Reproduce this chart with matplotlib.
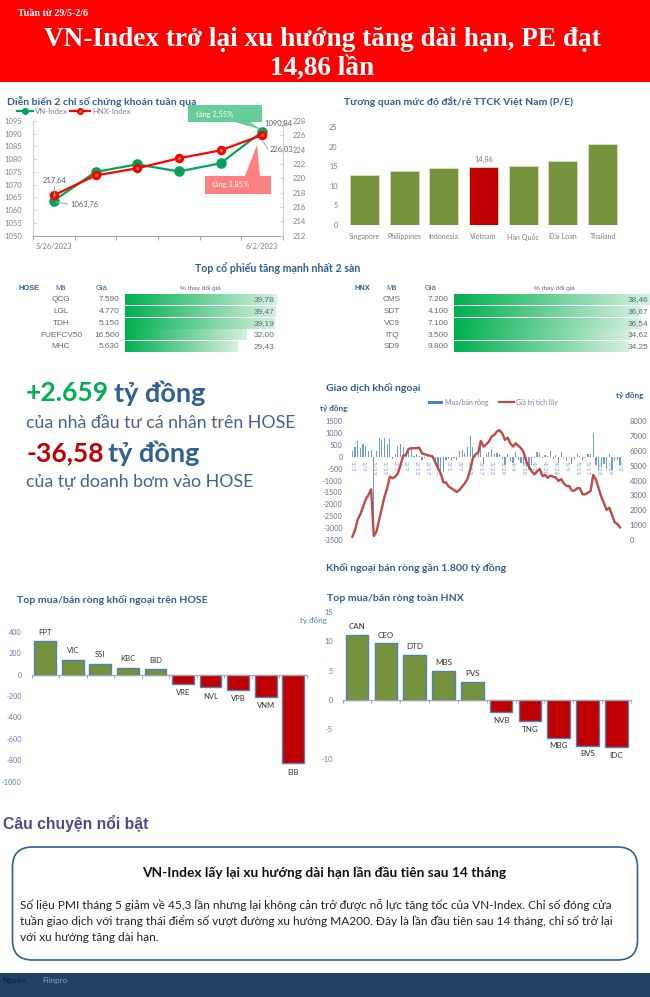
import numpy as np
import matplotlib
matplotlib.use('Agg')
import matplotlib.pyplot as plt
from matplotlib.patches import Rectangle, FancyBboxPatch, Polygon
from matplotlib.colors import LinearSegmentedColormap

W, H = 650, 997
SANS = 'Lato'
plt.rcParams['font.family'] = [SANS, 'Noto Sans', 'DejaVu Sans']
plt.rcParams['axes.unicode_minus'] = False

# ---- data ----
idx_dates = ['5/26/2023', '', '', '', '', '6/2/2023']
vn_index = [1063.76, 1075.0, 1078.0, 1075.2, 1078.4, 1090.84]
hnx_index = [217.64, 220.4, 221.4, 222.8, 223.9, 226.03]

pe_names = ['Singapore', 'Philippines', 'Indonesia', 'Vietnam', 'Hàn Quốc', 'Đài Loan', 'Thailand']
pe_values = [12.8, 13.9, 14.5, 14.86, 15.1, 16.3, 20.8]

hose_codes = ['QCG', 'LGL', 'TDH', 'FUEFCV50', 'MHC']
hose_prices = ['7.590', '4.770', '5.150', '16.500', '5.630']
hose_changes = [39.78, 39.47, 39.19, 32.00, 29.43]
hnx_codes = ['CMS', 'SDT', 'VC9', 'ITQ', 'SD9']
hnx_prices = ['7.200', '4.100', '7.100', '3.500', '9.800']
hnx_changes = [38.46, 36.67, 36.54, 34.62, 34.25]

foreign_ticks = ['1/3', '1/9', '1/13', '1/19', '2/1', '2/7', '2/13', '2/17', '2/23', '3/1', '3/7', '3/13', '3/17',
                 '3/23', '3/29', '4/4', '4/10', '4/14', '4/20', '4/26', '5/5', '5/11', '5/17', '5/23', '5/29', '6/2']
foreign_net = [250, 400, 680, 350, 530, 450, 250, 300, -3350, 230, 800, 720, 800, 540, 750, -100, 110, 450, 530, 420,
               130, 380, 350, 50, 100, 30, -150, -50, 80, 30, 60, -300, -500, -620, -650, -120, -100, -120, -50, -150,
               230, 270, 160, 420, 870, 400, 150, 250, 700, -300, 120, 180, 320, 130, 170, 110, -100, -350, 130, -200,
               -250, 190, -130, -250, -300, -400, -550, -350, -50, 210, 140, -60, 60, 50, 240, -80, 90, -250, 190, -60,
               -200, -50, -300, -100, 130, 40, -150, -50, 110, 120, 1010, -350, -550, -450, -300, -500, 100, -550, -200,
               -130, -350]
foreign_cum = [220, 670, 1390, 1730, 2240, 2730, 3030, 3410, 270, 560, 1350, 2130, 2910, 3480, 4260, 4150, 4260, 4480,
               5040, 5670, 5720, 6120, 6170, 6170, 6170, 6210, 5830, 5760, 5720, 5670, 5600, 5220, 4820, 4480, 3880,
               3860, 3590, 3480, 3360, 3230, 3360, 3590, 3810, 4100, 4710, 5490, 5760, 5870, 6660, 6280, 6430, 6610,
               6950, 7060, 7290, 7380, 7170, 6730, 6880, 6500, 6280, 6500, 6340, 6170, 5900, 5270, 4930, 4600, 4420,
               4600, 4780, 4300, 4370, 4190, 4330, 4260, 4210, 3970, 4100, 3810, 3630, 3630, 3320, 3320, 3480, 3480,
               3070, 3070, 3180, 3300, 4370, 4040, 3480, 2910, 2470, 2020, 2170, 1680, 1190, 1080, 850]

top_hose_names = ['FPT', 'VIC', 'SSI', 'KBC', 'BID', 'VRE', 'NVL', 'VPB', 'VNM', 'EIB']
top_hose_values = [310, 140, 100, 65, 50, -85, -120, -140, -205, -830]
top_hnx_names = ['CAN', 'CEO', 'DTD', 'MBS', 'PVS', 'NVB', 'TNG', 'MBG', 'BVS', 'IDC']
top_hnx_values = [11, 9.6, 7.7, 5, 3.1, -2.1, -3.6, -6.4, -7.8, -8]

# ---- colours ----
NAVY = '#2F5F93'
TICK = '#7F7F9F'
GREEN = '#76923C'
RED = '#C00000'
EDGE = '#4F81BD'
ARIAL = 'Liberation Sans'

fig = plt.figure(figsize=(W / 100, H / 100), dpi=100, facecolor='white')


def axpx(x0, y0, x1, y1, **kw):
    """Axes from pixel box, y measured from the top of the figure."""
    return fig.add_axes([x0 / W, 1 - y1 / H, (x1 - x0) / W, (y1 - y0) / H], **kw)


def px(v):
    return v * 0.72  # pixels to points at dpi 100


bg = axpx(0, 0, W, H)
bg.set_xlim(0, W)
bg.set_ylim(H, 0)
bg.axis('off')
bg.set_zorder(3)
bg.patch.set_alpha(0)

# ---- header ----
bg.add_patch(Rectangle((0, 0), W, 82, color='#FF0000', lw=0))
bg.text(18, 14, 'Tuần từ 29/5-2/6', family='Liberation Serif', weight='bold', color='white', fontsize=px(10), va='center')
bg.text(322, 40, 'VN-Index trở lại xu hướng tăng dài hạn, PE đạt', family='Liberation Serif', weight='bold', color='white',
        fontsize=px(27.2), ha='center', va='center')
bg.text(322, 68, '14,86 lần', family='Liberation Serif', weight='bold', color='white', fontsize=px(27.2), ha='center', va='center')


def title(x, y, s, size=10.5, ha='left'):
    bg.text(x, y, s, color=NAVY, weight='bold', fontsize=px(size), ha=ha, va='center')


# ---- index chart ----
title(7, 102, 'Diễn biến 2 chỉ số chứng khoán tuần qua')
a = axpx(33, 121, 283, 235.7)
b = a.twinx()
xs = np.arange(len(vn_index))
a.set_xlim(-0.5, 5.5)
a.set_ylim(1050, 1095)
b.set_ylim(212, 228)
a.set_yticks(np.arange(1050, 1096, 5))
b.set_yticks(np.arange(212, 229, 2))
a.set_xticks(np.arange(-0.5, 6, 1))
a.set_xticklabels([])
for s in ['top', 'right']:
    a.spines[s].set_visible(False)
for s in ['top', 'left', 'bottom']:
    b.spines[s].set_visible(False)
a.spines['left'].set_color('#D0D0D0')
a.spines['bottom'].set_color('#A6A6A6')
b.spines['right'].set_color('#D0D0D0')
a.tick_params(axis='y', length=2, direction='in', color='#D0D0D0', labelsize=px(7.6), labelcolor=TICK, pad=8)
b.tick_params(axis='y', length=2, direction='in', color='#D0D0D0', labelsize=px(7.6), labelcolor=TICK, pad=7)
a.tick_params(axis='x', length=3, color='#A6A6A6')
a.plot(xs, vn_index, color='#00A651', lw=1.6, marker='o', ms=5, mfc='#2E75B6', mec='#00A651', mew=2.6, clip_on=False, zorder=3)
b.plot(xs, hnx_index, color='#FF0000', lw=1.6, marker='o', ms=4.6, mfc='#ED7D31', mec='#FF0000', mew=2.2, clip_on=False, zorder=4)
for x, s in zip(xs, idx_dates):
    if s:
        a.text(x, 1047.2, s, fontsize=px(7.4), color=TICK, ha='center', va='top')
# callouts and their labels
bg.add_patch(Polygon([(188, 105), (262, 105), (262, 122), (250, 122), (262, 130), (235, 122), (188, 122)], color='#66CC99', lw=0, zorder=5))
bg.text(215, 114, 'tăng 2,55%', color='white', fontsize=px(7.5), ha='center', va='center', zorder=6)
bg.add_patch(Polygon([(205, 176), (245, 176), (257, 145), (260, 176), (271, 176), (271, 194), (205, 194)], color='#FF8080', lw=0, zorder=5))
bg.text(231, 184, 'tăng 3,85%', color='white', fontsize=px(7.5), ha='center', va='center', zorder=6)
for x0, y0, x1, y1 in [(54, 186, 54, 196), (56, 202, 68, 204), (262, 140, 268, 149)]:
    bg.plot([x0, x1], [y0, y1], color='#A6A6A6', lw=0.7, zorder=5)
for x, y, s in [(55, 180, '217,64'), (84, 204, '1063,76'), (278, 123, '1090,84'), (281, 149, '226,03')]:
    bg.text(x, y, s, color='#5F5F7F', fontsize=px(7.6), ha='center', va='center', zorder=7)
# legend
bg.plot([17, 33], [111, 111], color='#00A651', lw=1.6, zorder=8)
bg.plot([25], [111], marker='o', ms=3.5, mfc='#2E75B6', mec='#00A651', mew=1.5, zorder=9)
bg.text(35, 111, 'VN-Index', color=TICK, fontsize=px(7.8), va='center')
bg.plot([70, 90], [111, 111], color='#FF0000', lw=1.6, zorder=8)
bg.plot([80], [111], marker='o', ms=3.5, mfc='#ED7D31', mec='#FF0000', mew=1.5, zorder=9)
bg.text(92, 111, 'HNX-Index', color=TICK, fontsize=px(7.8), va='center')

# ---- P/E ----
title(344, 102, 'Tương quan mức độ đắt/rẻ TTCK Việt Nam (P/E)')
a = axpx(344.5, 127.3, 622.5, 225)
pos = np.arange(len(pe_names))
cols = [RED if n == 'Vietnam' else GREEN for n in pe_names]
a.bar(pos, pe_values, width=0.73, color=cols, edgecolor='#D6E3BC', linewidth=0.6)
a.set_xlim(-0.5, 6.5)
a.set_ylim(0, 25)
a.set_xticks(pos)
a.set_xticklabels(pe_names)
a.set_yticks(np.arange(0, 26, 5))
for s in a.spines.values():
    s.set_visible(False)
a.tick_params(length=0, labelsize=px(7.2), labelcolor='#7F7F7F', pad=6)
a.tick_params(axis='y', pad=5, labelsize=px(7.4))
a.text(3, 14.86 + 1.1, '14,86', ha='center', va='bottom', fontsize=px(7.4), color='#7F7F7F')

# ---- tables ----
title(278, 268, 'Top cổ phiếu tăng mạnh nhất 2 sàn', size=10.6, ha='center')
row_ys = [299.8, 311.6, 323.3, 335, 346.7]
GRAD = LinearSegmentedColormap.from_list('g', ['#00B050', '#D5F0DF'])
grad = np.linspace(0, 1, 256).reshape(1, -1)
TXT = '#5F6B7A'


def table(label, lx, cx, gx, px_r, x0, x1, hi, codes, prices, changes, hx):
    bg.text(lx, 288, label, color=NAVY, weight='bold', fontsize=px(7.5), ha='center', va='center', family=ARIAL)
    bg.text(cx, 288, 'Mã', color=NAVY, fontsize=px(7.5), ha='center', va='center', family=ARIAL)
    bg.text(gx, 288, 'Giá', color=NAVY, fontsize=px(7.5), ha='center', va='center', family=ARIAL)
    bg.text(hx, 288, '% thay đổi giá', color=TXT, fontsize=px(6.5), ha='center', va='center', family=ARIAL)
    ax = axpx(x0, 294, x1, 352.5)
    ax.axis('off')
    for y, c, p, v in zip(row_ys, codes, prices, changes):
        bg.text(cx, y, c, color=TXT, fontsize=px(8.3), ha='center', va='center', family=ARIAL)
        bg.text(px_r, y, p, color=TXT, fontsize=px(8.3), ha='right', va='center', family=ARIAL)
        ax.imshow(grad, extent=(0, v, y + 5.5, y - 5.5), cmap=GRAD, aspect='auto', zorder=1)
        bg.text(x1 - 1.5, y, f'{v:.2f}'.replace('.', ','), color=TXT, fontsize=px(8.3), ha='right', va='center', zorder=5, family=ARIAL)
    ax.set_xlim(0, hi)
    ax.set_ylim(352.5, 294)


table('HOSE', 29, 61, 102, 119.5, 124.6, 276, 39.78, hose_codes, hose_prices, hose_changes, 200)
table('HNX', 362, 392, 431, 449, 454, 650, 38.46, hnx_codes, hnx_prices, hnx_changes, 554)

# ---- big numbers ----
BIG = 26.5
bg.text(26, 393, '+2.659', color='#00B050', weight='bold', fontsize=px(BIG), va='center')
bg.text(114, 393, 'tỷ đồng', color=NAVY, weight='bold', fontsize=px(27), va='center')
bg.text(26, 423, 'của nhà đầu tư cá nhân trên HOSE', color='#44648F', fontsize=px(17.7), va='center')
bg.text(26, 453, '-36,58', color=RED, weight='bold', fontsize=px(BIG), va='center')
bg.text(108, 453, 'tỷ đồng', color=NAVY, weight='bold', fontsize=px(27), va='center')
bg.text(26, 482, 'của tự doanh bơm vào HOSE', color='#44648F', fontsize=px(17.7), va='center')

# ---- foreign flows ----
title(326, 388, 'Giao dịch khối ngoại')
title(320, 408, 'tỷ đồng', size=8.2)
title(616, 395, 'tỷ đồng', size=8.2)
a = axpx(349.7, 421, 622.7, 540)
b = a.twinx()
days = np.arange(len(foreign_net))
a.spines['bottom'].set_position(('data', 0))
a.bar(days, foreign_net, width=0.45, color='#6F9BD1')
b.plot(days, foreign_cum, color='#BE4B48', lw=1.7)
a.set_xlim(-1, len(days))
a.set_ylim(-3500, 1500)
b.set_ylim(0, 8000)
a.set_yticks(np.arange(-3500, 1501, 500))
b.set_yticks(np.arange(0, 8001, 1000))
for ax in (a, b):
    for s in ax.spines.values():
        s.set_visible(False)
a.set_xticks(days[::4])
a.set_xticklabels(foreign_ticks)
a.tick_params(axis='x', length=0, pad=3, labelrotation=270, labelsize=px(6.5), labelcolor='#7FA3D1')
a.tick_params(axis='y', length=0, labelsize=px(7.3), labelcolor='#5F6F8F', pad=5)
b.tick_params(axis='y', length=0, labelsize=px(7.5), labelcolor='#5F6F8F', pad=5)
bg.add_patch(Rectangle((428, 400.5), 15, 3, color='#4F81BD', lw=0))
bg.text(445, 402, 'Mua/bán ròng', color='#7F7F9F', fontsize=px(6.9), va='center')
bg.plot([499, 514], [402, 402], color='#BE4B48', lw=1.6)
bg.text(516, 402, 'Giá trị tích lũy', color='#7F7F9F', fontsize=px(6.8), va='center')
title(326, 568, 'Khối ngoại bán ròng gần 1.800 tỷ đồng')


# ---- top buy/sell ----
def topchart(box, names, values, ylim, step, tsize, lab_off, wid, lsize):
    ax = axpx(*box)
    p = np.arange(len(names))
    ax.spines['bottom'].set_position(('data', 0))
    ax.bar(p, values, width=wid, color=[GREEN if v > 0 else RED for v in values], edgecolor=EDGE, linewidth=1)
    ax.set_xlim(-0.5, len(names) - 0.5)
    ax.set_ylim(*ylim)
    ax.set_yticks(np.arange(ylim[0], ylim[1] + 1, step))
    ax.set_xticks(np.arange(-0.5, len(names)))
    ax.set_xticklabels([])
    for s in ['top', 'right', 'left']:
        ax.spines[s].set_visible(False)
    ax.spines['bottom'].set_color('#A6A6A6')
    ax.tick_params(axis='x', length=2, color='#A6A6A6', direction='out')
    ax.tick_params(axis='y', length=0, labelsize=px(tsize), labelcolor='#5F7FA8', pad=7)
    for xp, n, v in zip(p, names, values):
        off = lab_off if v > 0 else -lab_off
        ax.text(xp, v + off, n, ha='center', va='center', fontsize=px(lsize), color='#333333')


title(17, 600, 'Top mua/bán ròng khối ngoại trên HOSE')
topchart((31.5, 631.7, 307, 781.7), top_hose_names, top_hose_values, (-1000, 400), 200, 7.3, 85, 0.79, 7.6)
title(327, 598, 'Top mua/bán ròng toàn HNX')
topchart((342.7, 611.7, 630.7, 758.7), top_hnx_names, top_hnx_values, (-10, 15), 5, 7.5, 1.4, 0.79, 8)
bg.text(313, 620, 'tỷ đồng', color='#4F81BD', fontsize=px(8), ha='center', va='center')

# ---- story ----
bg.text(3, 823, 'Câu chuyện nổi bật', color='#4B4A8C', weight='bold', fontsize=px(15.8), va='center', family=ARIAL)
bg.add_patch(FancyBboxPatch((12.5, 847), 625, 113, boxstyle='round,pad=0,rounding_size=20', fc='white', ec='#2F5F93', lw=1.2))
bg.text(324, 872.5, 'VN-Index lấy lại xu hướng dài hạn lần đầu tiên sau 14 tháng', color='#111111', weight='bold',
        fontsize=px(13.7), ha='center', va='center')
body = ['Số liệu PMI tháng 5 giảm về 45,3 lần nhưng lại không cản trở được nỗ lực tăng tốc của VN-Index. Chỉ số đóng cửa',
        'tuần giao dịch với trạng thái điểm số vượt đường xu hướng MA200. Đây là lần đầu tiên sau 14 tháng, chỉ số trở lại',
        'với xu hướng tăng dài hạn.']
for y, s in zip([905, 921, 937], body):
    bg.text(20, y, s, color='#222222', fontsize=px(11.95), va='center')

bg.add_patch(Rectangle((0, 973), W, 24, color='#234065', lw=0))
bg.text(2, 980, 'Nguồn', color='#0B1F3A', fontsize=px(8), va='center')
bg.text(42, 980, 'Fiinpro', color='#8FA0B8', fontsize=px(8), va='center')

fig.savefig('out.png', dpi=100)
